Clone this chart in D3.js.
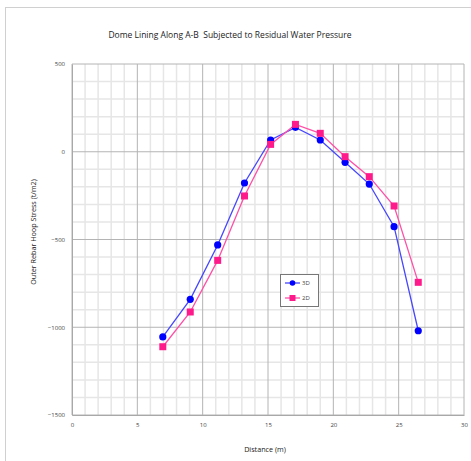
<!DOCTYPE html>
<html><head><meta charset="utf-8">
<script src="https://cdn.jsdelivr.net/npm/d3@7"></script>
<style>body{margin:0;background:#fff}svg{display:block}text{white-space:pre}</style>
</head><body>
<script>
const distance = [6.95, 9.05, 11.15, 13.2, 15.2, 17.1, 19.0, 20.9, 22.75, 24.65, 26.5];
const stress3D = [-1055, -841, -531, -178, 67, 139, 67, -60, -184, -427, -1020];
const stress2D = [-1111, -913, -619, -252, 42, 156, 105, -28, -142, -309, -744];
const xTicks = [0, 5, 10, 15, 20, 25, 30];
const yTicks = [-1500, -1000, -500, 0, 500];
const seriesNames = ["3D", "2D"];

const W = 471, H = 461;
const svg = d3.select("body").append("svg").attr("width", W).attr("height", H);
const font = "'Open Sans', 'Liberation Sans', sans-serif";

// outer frame
svg.append("rect").attr("x", 5.5).attr("y", 7.5).attr("width", W).attr("height", H)
  .attr("fill", "none").attr("stroke", "#d0d0d0");

const x = d3.scaleLinear().domain([0, 30]).range([72, 464]);
const y = d3.scaleLinear().domain([-1500, 500]).range([415, 64]);

const g = svg.append("g");
// minor grid
g.selectAll(".vm").data(d3.range(1, 30).filter(v => v % 5 !== 0)).enter().append("line")
  .attr("x1", d => x(d)).attr("x2", d => x(d)).attr("y1", y(500)).attr("y2", y(-1500))
  .attr("stroke", "#e6e6e6").attr("stroke-width", 1.5);
g.selectAll(".hm").data(d3.range(-1400, 500, 100).filter(v => v % 500 !== 0)).enter().append("line")
  .attr("x1", x(0)).attr("x2", x(30)).attr("y1", d => y(d)).attr("y2", d => y(d))
  .attr("stroke", "#e6e6e6").attr("stroke-width", 1.5);
// major grid
g.selectAll(".vM").data(xTicks).enter().append("line")
  .attr("x1", d => x(d)).attr("x2", d => x(d)).attr("y1", y(500)).attr("y2", y(-1500))
  .attr("stroke", "#b4b4b4").attr("stroke-width", 1);
g.selectAll(".hM").data(yTicks).enter().append("line")
  .attr("x1", x(0)).attr("x2", x(30)).attr("y1", d => y(d)).attr("y2", d => y(d))
  .attr("stroke", "#b4b4b4").attr("stroke-width", 1);

// axes
const xa = svg.append("g").attr("transform", `translate(0,${y(-1500)})`)
  .call(d3.axisBottom(x).tickValues(xTicks).tickFormat(d3.format("d")).tickSize(0).tickPadding(8));
const ya = svg.append("g").attr("transform", `translate(${x(0)},0)`)
  .call(d3.axisLeft(y).tickValues(yTicks).tickFormat(d3.format("d")).tickSize(0).tickPadding(7));
[xa, ya].forEach(a => {
  a.select(".domain").attr("stroke", "#a8a8a8");
  a.selectAll("text").attr("font-family", font).attr("font-size", 6).attr("fill", "#444");
});

// title & axis titles
svg.append("text").attr("x", 230).attr("y", 38).attr("text-anchor", "middle")
  .attr("font-family", font).attr("font-size", 8.5).attr("fill", "#222")
  .text("Dome Lining Along A-B  Subjected to Residual Water Pressure");
svg.append("text").attr("x", 265).attr("y", 452).attr("text-anchor", "middle")
  .attr("font-family", font).attr("font-size", 7.2).attr("fill", "#222").text("Distance (m)");
svg.append("text").attr("transform", "translate(36,232) rotate(-90)").attr("text-anchor", "middle")
  .attr("font-family", font).attr("font-size", 7.2).attr("fill", "#222")
  .text("Outer Rebar Hoop Stress (t/m2)");

const line = d3.line().x(d => x(d[0])).y(d => y(d[1]));
const d3s = distance.map((d, i) => [d, stress3D[i]]);
const d2s = distance.map((d, i) => [d, stress2D[i]]);

svg.append("path").datum(d3s).attr("d", line).attr("fill", "none").attr("stroke", "#4646ff").attr("stroke-width", 1.3);
svg.append("path").datum(d2s).attr("d", line).attr("fill", "none").attr("stroke", "#ff4fa7").attr("stroke-width", 1.3);

svg.selectAll(".c").data(d3s).enter().append("circle")
  .attr("cx", d => x(d[0])).attr("cy", d => y(d[1])).attr("r", 3.6).attr("fill", "#0000ff");
svg.selectAll(".s").data(d2s).enter().append("rect")
  .attr("x", d => x(d[0]) - 3.5).attr("y", d => y(d[1]) - 3.5).attr("width", 7).attr("height", 7).attr("fill", "#ff1a8c");

// legend
const lg = svg.append("g");
lg.append("rect").attr("x", 280.5).attr("y", 274.5).attr("width", 38).attr("height", 32)
  .attr("fill", "#fff").attr("stroke", "#777");
const lc = [["#4646ff", "#0000ff"], ["#ff4fa7", "#ff1a8c"]];
seriesNames.forEach((n, i) => {
  const yy = 283 + i * 15;
  lg.append("line").attr("x1", 285).attr("x2", 300).attr("y1", yy).attr("y2", yy)
    .attr("stroke", lc[i][0]).attr("stroke-width", 1.3);
  if (i === 0) lg.append("circle").attr("cx", 292.5).attr("cy", yy).attr("r", 2.8).attr("fill", lc[i][1]);
  else lg.append("rect").attr("x", 289.5).attr("y", yy - 3).attr("width", 6).attr("height", 6).attr("fill", lc[i][1]);
  lg.append("text").attr("x", 302).attr("y", yy + 2).attr("font-family", font).attr("font-size", 6)
    .attr("fill", "#444").text(n);
});
</script>
</body></html>
